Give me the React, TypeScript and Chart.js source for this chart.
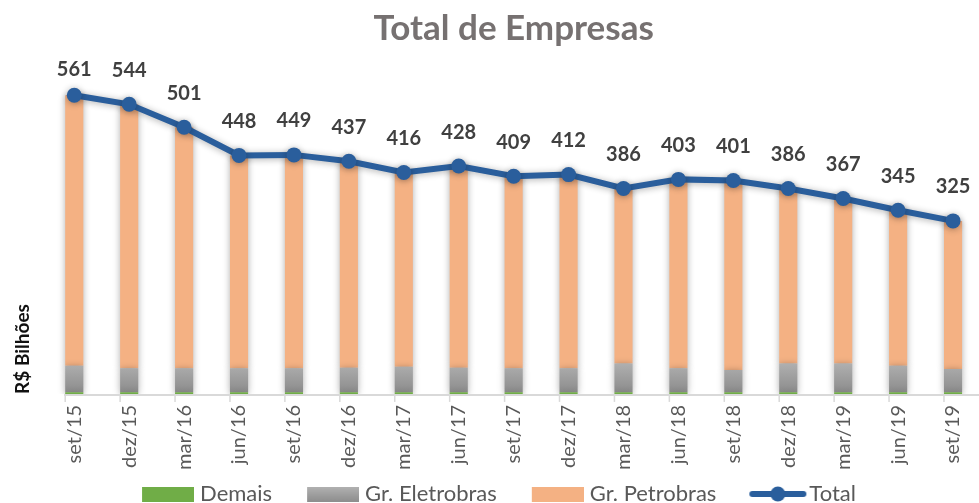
import React, { useEffect, useRef } from "react";
import { Chart, registerables } from "chart.js";

Chart.register(...registerables);

const CATEGORIES = ["set/15", "dez/15", "mar/16", "jun/16", "set/16", "dez/16", "mar/17", "jun/17", "set/17", "dez/17", "mar/18", "jun/18", "set/18", "dez/18", "mar/19", "jun/19", "set/19"];
const TOTAL = [561, 544, 501, 448, 449, 437, 416, 428, 409, 412, 386, 403, 401, 386, 367, 345, 325];
const DEMAIS = [3, 3, 3, 3, 3, 3, 3, 3, 3, 3, 3, 3, 3, 3, 3, 3, 3];
const ELETROBRAS = [50, 45, 45, 45, 45, 46, 48, 46, 45, 45, 54, 45, 42, 54, 54, 50, 44];
const PETROBRAS = [508, 496, 453, 400, 401, 388, 365, 379, 361, 364, 329, 355, 356, 329, 310, 292, 278];

const FONT = "Lato";
const BLUE = "#2A5E9C";
const ORANGE = "#F4B183";
const GREEN = "#70AD47";
const GRAY = "#A3A3A3";
const AXIS = "#D9D9D9";

// legend symbol geometry
const SLOT_W = 72;
const BOX_W = 52;
const BOX_H = 15;

function makeBoxImage(fill: string | [string, string]): HTMLCanvasElement {
  const c = document.createElement("canvas");
  c.width = SLOT_W + 10;
  c.height = BOX_H;
  const g = c.getContext("2d")!;
  if (Array.isArray(fill)) {
    const gr = g.createLinearGradient(0, 0, 0, BOX_H);
    gr.addColorStop(0, fill[0]);
    gr.addColorStop(1, fill[1]);
    g.fillStyle = gr;
  } else {
    g.fillStyle = fill;
  }
  g.fillRect(c.width - BOX_W, 0, BOX_W, BOX_H);
  return c;
}

function makeLineImage(): HTMLCanvasElement {
  const c = document.createElement("canvas");
  c.width = 92;
  c.height = 16;
  const g = c.getContext("2d")!;
  g.strokeStyle = BLUE;
  g.lineWidth = 6;
  g.lineCap = "round";
  g.beginPath();
  g.moveTo(36, 8);
  g.lineTo(87, 8);
  g.stroke();
  g.fillStyle = BLUE;
  g.beginPath();
  g.arc(61.5, 8, 7.5, 0, Math.PI * 2);
  g.fill();
  return c;
}

const shadowPlugin = {
  id: "softShadow",
  beforeDatasetDraw(chart: any) {
    const ctx = chart.ctx;
    ctx.save();
    ctx.shadowColor = "rgba(0,0,0,0.32)";
    ctx.shadowBlur = 7;
    ctx.shadowOffsetX = 0;
    ctx.shadowOffsetY = 1;
  },
  afterDatasetDraw(chart: any) {
    chart.ctx.restore();
  },
};

// category axis line and tick marks at the left edge of each column (as in the source)
const axisPlugin = {
  id: "axisTicks",
  beforeDatasetsDraw(chart: any) {
    const meta = chart.getDatasetMeta(0);
    const area = chart.chartArea;
    const ctx = chart.ctx;
    if (!meta.data.length) return;
    ctx.save();
    ctx.strokeStyle = AXIS;
    ctx.lineWidth = 2;
    const first = meta.data[0];
    ctx.beginPath();
    ctx.moveTo(first.x - first.width / 2 - 1, area.bottom + 1);
    ctx.lineTo(area.right, area.bottom + 1);
    ctx.stroke();
    ctx.lineWidth = 1.5;
    meta.data.forEach((el: any) => {
      const x = el.x - el.width / 2;
      ctx.beginPath();
      ctx.moveTo(x, area.bottom);
      ctx.lineTo(x, area.bottom + 8);
      ctx.stroke();
    });
    ctx.restore();
  },
};

const labelPlugin = {
  id: "totalLabels",
  afterDatasetsDraw(chart: any) {
    const idx = chart.data.datasets.findIndex((d: any) => d.type === "line");
    if (idx < 0) return;
    const meta = chart.getDatasetMeta(idx);
    const ctx = chart.ctx;
    const area = chart.chartArea;
    ctx.save();
    ctx.font = `bold 20px ${FONT}`;
    ctx.fillStyle = "#404040";
    ctx.textAlign = "center";
    ctx.textBaseline = "middle";
    meta.data.forEach((pt: any, i: number) => {
      const y = Math.max(pt.y - 34, area.top + 12);
      ctx.fillText(String(chart.data.datasets[idx].data[i]), pt.x, y);
    });
    ctx.restore();
  },
};

export default function App() {
  const ref = useRef<HTMLCanvasElement>(null);

  useEffect(() => {
    if (!ref.current) return;
    const symbols = [
      makeBoxImage(GREEN),
      makeBoxImage(["#B2B2B2", "#8E8E8E"]),
      makeBoxImage(ORANGE),
      makeLineImage(),
    ];
    const grayFill = (c: any) => {
      const chart = c.chart;
      if (!chart.chartArea) return GRAY;
      const y = chart.scales.y;
      const g = chart.ctx.createLinearGradient(0, y.getPixelForValue(0), 0, y.getPixelForValue(55));
      g.addColorStop(0, "#8A8A8A");
      g.addColorStop(1, "#AEAEAE");
      return g;
    };

    const chart = new Chart(ref.current, {
      type: "bar",
      data: {
        labels: CATEGORIES,
        datasets: [
          { type: "bar", label: "Demais", data: DEMAIS, backgroundColor: GREEN, order: 1, stack: "s" } as any,
          { type: "bar", label: "Gr. Eletrobras", data: ELETROBRAS, backgroundColor: grayFill, order: 1, stack: "s" } as any,
          { type: "bar", label: "Gr. Petrobras", data: PETROBRAS, backgroundColor: ORANGE, order: 1, stack: "s" } as any,
          {
            type: "line",
            label: "Total",
            data: TOTAL,
            borderColor: BLUE,
            backgroundColor: BLUE,
            borderWidth: 6,
            pointRadius: 7.5,
            pointBackgroundColor: BLUE,
            pointBorderWidth: 0,
            tension: 0,
            order: 0,
            stack: "t",
          } as any,
        ],
      },
      options: {
        animation: false,
        responsive: true,
        maintainAspectRatio: false,
        layout: { padding: { left: -15, right: 0, top: 0, bottom: 0 } },
        datasets: { bar: { barPercentage: 0.33, categoryPercentage: 1 } },
        scales: {
          x: {
            stacked: true,
            offset: true,
            grid: { display: true, drawOnChartArea: false, drawTicks: true, tickLength: 8, color: "rgba(0,0,0,0)" },
            border: { display: false },
            ticks: {
              autoSkip: false,
              minRotation: 90,
              maxRotation: 90,
              padding: 3,
              color: "#595959",
              font: { family: FONT, size: 20 },
            },
          },
          y: {
            stacked: true,
            min: 0,
            max: 631,
            grid: { display: false },
            border: { display: false },
            ticks: { display: false },
            title: {
              display: true,
              text: "R$ Bilhões",
              align: "start",
              color: "#111111",
              font: { family: FONT, size: 19, weight: "bold" },
              padding: { top: 26, bottom: 5 },
            },
          },
        },
        plugins: {
          title: {
            display: true,
            text: "Total de Empresas",
            fullSize: false,
            color: "#767171",
            font: { family: FONT, size: 35, weight: "bold" },
            padding: { top: 7.5, bottom: 8.5 },
          },
          legend: {
            display: true,
            position: "bottom",
            labels: {
              usePointStyle: true,
              pointStyleWidth: SLOT_W,
              boxHeight: BOX_H,
              padding: 10,
              color: "#595959",
              font: { family: FONT, size: 22 },
              generateLabels: (ch: any) => {
                const items = Chart.defaults.plugins.legend.labels.generateLabels(ch);
                items.sort((a: any, b: any) => a.datasetIndex - b.datasetIndex);
                return items.map((it: any) => ({
                  ...it,
                  pointStyle: symbols[it.datasetIndex],
                  lineWidth: 0,
                  rotation: 0,
                }));
              },
            },
          },
          tooltip: { enabled: false },
        },
      },
      plugins: [shadowPlugin, axisPlugin, labelPlugin],
    });
    return () => chart.destroy();
  }, []);

  return (
    <div style={{ position: "fixed", left: 0, top: 0, width: 979, height: 503, overflow: "hidden", background: "#fff" }}>
      <div style={{ position: "relative", width: 988, height: 515 }}>
        <canvas ref={ref} />
      </div>
    </div>
  );
}
